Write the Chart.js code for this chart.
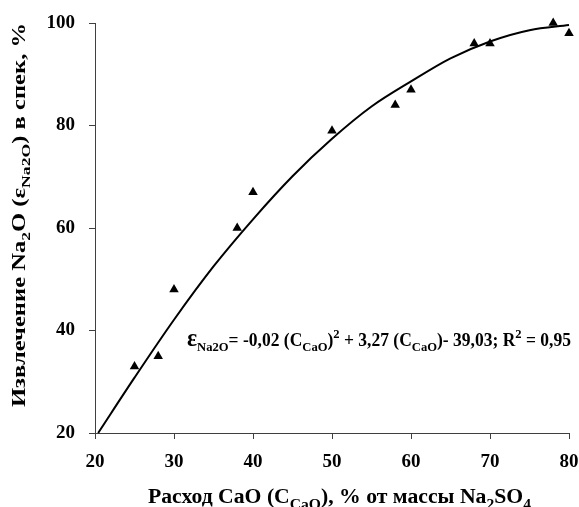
<!DOCTYPE html>
<html>
<head>
<meta charset="utf-8">
<script src="https://cdn.jsdelivr.net/npm/chart.js@4/dist/chart.umd.min.js"></script>
<style>
  html, body { margin: 0; padding: 0; background: #fff; }
  #wrap { width: 579px; height: 507px; }
</style>
</head>
<body>
<div id="wrap"><canvas id="chart" width="579" height="507"></canvas></div>
<script>
// измеренные точки: расход CaO и извлечение Na2O
const cao = [25, 28, 30, 38, 40, 50, 58, 60, 68, 70, 78, 80];
const extraction = [33, 35, 48, 60, 67, 79, 84, 87, 96, 96, 100, 98];

// линия тренда
const trendX = [20.4, 25, 30, 35, 40, 45, 50, 55, 60, 65, 70, 75, 80];
const trendY = [20, 30.8, 42.1, 52.5, 61.7, 70.1, 77.4, 83.7, 88.6, 93.1, 96.4, 98.6, 99.6];

const xTicks = [20, 30, 40, 50, 60, 70, 80];
const yTicks = [20, 40, 60, 80, 100];

const FONT = '"Liberation Serif", "Times New Roman", serif';
const AXIS = '#404040';

// текст с индексами: [строка, 'sub' | 'sup' | 'big' | undefined]
const xTitle = [['Расход CaO (C'], ['CaO', 'sub'], ['), % от массы Na'], ['2', 'sub'], ['SO'], ['4', 'sub']];
const yTitle = [['Извлечение Na'], ['2', 'sub'], ['O (ε'], ['Na2O', 'sub'], [') в спек, %']];
const equation = [['ε', 'big'], ['Na2O', 'sub'], ['= -0,02 (C'], ['CaO', 'sub'], [')'], ['2', 'sup'],
  [' + 3,27 (C'], ['CaO', 'sub'], [')- 39,03; R'], ['2', 'sup'], [' = 0,95']];

function partSize(k, size) {
  if (k === 'sub' || k === 'sup') return size * 0.72;
  if (k === 'big') return size * 1.35;
  return size;
}

function richWidth(ctx, parts, size) {
  let w = 0;
  parts.forEach(([t, k]) => {
    ctx.font = 'bold ' + partSize(k, size) + 'px ' + FONT;
    w += ctx.measureText(t).width;
  });
  return w;
}

// o: size, x (левый край), y (базовая линия), angle, width (нужная длина строки)
function drawRich(ctx, parts, o) {
  ctx.save();
  ctx.translate(o.x, o.y);
  ctx.rotate(o.angle || 0);
  const natural = richWidth(ctx, parts, o.size);
  ctx.scale(o.width / natural, 1);
  ctx.fillStyle = '#000';
  ctx.textBaseline = 'alphabetic';
  let x = 0;
  parts.forEach(([t, k]) => {
    ctx.font = 'bold ' + partSize(k, o.size) + 'px ' + FONT;
    let dy = 0;
    if (k === 'sub') dy = o.size * 0.3;
    if (k === 'sup') dy = -o.size * 0.42;
    ctx.fillText(t, x, dy);
    x += ctx.measureText(t).width;
  });
  ctx.restore();
}

const richText = {
  id: 'richText',
  afterDraw(chart) {
    const ctx = chart.ctx;
    drawRich(ctx, xTitle, { size: 20, x: 148, y: 503, width: 383 });
    drawRich(ctx, yTitle, { size: 18, x: 25, y: 407, angle: -Math.PI / 2, width: 384 });
    drawRich(ctx, equation, { size: 18, x: 187, y: 346, width: 384 });
  }
};

new Chart(document.getElementById('chart'), {
  type: 'scatter',
  data: {
    datasets: [
      {
        label: 'Извлечение',
        data: cao.map((x, i) => ({ x: x, y: extraction[i] })),
        pointStyle: 'triangle',
        pointRadius: 5.5,
        pointBackgroundColor: '#000',
        pointBorderColor: '#000',
        pointBorderWidth: 0,
        showLine: false,
        clip: false
      },
      {
        label: 'Тренд',
        data: trendX.map((x, i) => ({ x: x, y: trendY[i] })),
        showLine: true,
        borderColor: '#000',
        borderWidth: 2,
        pointRadius: 0,
        cubicInterpolationMode: 'monotone',
        clip: false
      }
    ]
  },
  options: {
    responsive: false,
    animation: false,
    layout: { padding: { top: 23, right: 10, left: 0, bottom: 0 } },
    plugins: { legend: { display: false }, tooltip: { enabled: false } },
    scales: {
      x: {
        type: 'linear',
        min: 20, max: 80,
        afterBuildTicks: s => { s.ticks = xTicks.map(v => ({ value: v })); },
        afterFit: s => { s.height = 74; s.paddingLeft = 0; s.paddingRight = 0; },
        grid: { drawOnChartArea: false, tickLength: 6, tickColor: AXIS },
        border: { color: AXIS, width: 1 },
        ticks: { color: '#000', padding: 12, font: { family: FONT, size: 19, weight: 'bold' } }
      },
      y: {
        min: 20, max: 100,
        afterBuildTicks: s => { s.ticks = yTicks.map(v => ({ value: v })); },
        afterFit: s => { s.width = 95; s.paddingTop = 0; s.paddingBottom = 0; },
        grid: { drawOnChartArea: false, tickLength: 6, tickColor: AXIS },
        border: { color: AXIS, width: 1 },
        ticks: { color: '#000', padding: 14, font: { family: FONT, size: 19, weight: 'bold' } }
      }
    }
  },
  plugins: [richText]
});
</script>
</body>
</html>
